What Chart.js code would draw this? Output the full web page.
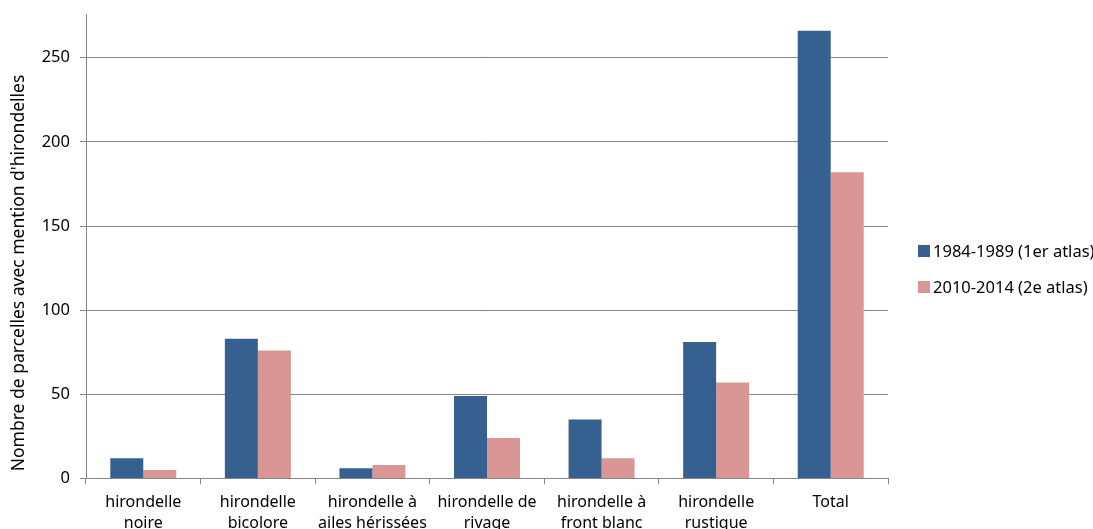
<!DOCTYPE html>
<html>
<head>
<meta charset="utf-8">
<script src="https://cdn.jsdelivr.net/npm/chart.js@4.4.1/dist/chart.umd.min.js"></script>
<style>
  html, body { margin: 0; padding: 0; background: #fff; overflow: hidden; }
  #wrap { position: relative; width: 1093px; height: 542px; }
</style>
</head>
<body>
<div id="wrap"><canvas id="chart"></canvas></div>
<script>
const categories = [
  ["hirondelle", "noire"],
  ["hirondelle", "bicolore"],
  ["hirondelle à", "ailes hérissées"],
  ["hirondelle de", "rivage"],
  ["hirondelle à", "front blanc"],
  ["hirondelle", "rustique"],
  "Total",
];
const seriesNames = ["1984-1989 (1er atlas)", "2010-2014 (2e atlas)"];
const seriesColors = ["#36608f", "#d99694"];
const firstAtlas = [12, 83, 6, 49, 35, 81, 266];
const secondAtlas = [5, 76, 8, 24, 12, 57, 182];
const yTicks = [0, 50, 100, 150, 200, 250];
const yTitle = "Nombre de parcelles avec mention d'hirondelles";

const gridColor = "#868686";
const fontFamily = "'Noto Sans', sans-serif";

Chart.defaults.font.family = fontFamily;
Chart.defaults.color = "#000";

// legend and axis title drawn by hand so they sit where the original has them
const sideTexts = {
  id: "sideTexts",
  afterDraw(chart) {
    const { ctx, chartArea } = chart;
    ctx.save();
    ctx.textBaseline = "middle";

    // y axis title
    ctx.save();
    ctx.translate(19, 273);
    ctx.rotate(-Math.PI / 2);
    ctx.textAlign = "center";
    ctx.font = "17.5px " + fontFamily;
    ctx.fillStyle = "#000";
    ctx.fillText(yTitle, 0, 0);
    ctx.restore();

    // legend
    const x = chartArea.right + 30;
    const midY = 269;
    ctx.font = "16.5px " + fontFamily;
    chart.data.datasets.forEach((ds, i) => {
      const y = midY + (i - 0.5) * 36;
      ctx.fillStyle = ds.backgroundColor;
      ctx.fillRect(x, y - 6, 12, 12);
      ctx.fillStyle = "#000";
      ctx.fillText(ds.label, x + 15, y + 1);
    });
    ctx.restore();
  },
};

new Chart(document.getElementById("chart"), {
  type: "bar",
  plugins: [sideTexts],
  data: {
    labels: categories,
    datasets: [
      {
        label: seriesNames[0],
        data: firstAtlas,
        backgroundColor: seriesColors[0],
        borderWidth: 0,
      },
      {
        label: seriesNames[1],
        data: secondAtlas,
        backgroundColor: seriesColors[1],
        borderWidth: 0,
      },
    ],
  },
  options: {
    responsive: true,
    maintainAspectRatio: false,
    animation: false,
    layout: { padding: { top: 14, right: 205, bottom: 0, left: 0 } },
    datasets: {
      bar: { categoryPercentage: 0.576, barPercentage: 1 },
    },
    plugins: {
      tooltip: { enabled: false },
      legend: { display: false },
    },
    scales: {
      x: {
        grid: {
          offset: true,
          drawOnChartArea: false,
          color: gridColor,
          tickLength: 6,
        },
        border: { color: gridColor, width: 1 },
        ticks: {
          font: { size: 16, lineHeight: 1.3 },
          color: "#000",
          padding: 8,
          maxRotation: 0,
          autoSkip: false,
        },
      },
      y: {
        min: 0,
        max: 276,
        afterBuildTicks: (scale) => {
          scale.ticks = yTicks.map((v) => ({ value: v }));
        },
        afterFit: (scale) => {
          scale.width = 86;
          scale.paddingTop = 0;
        },
        grid: {
          color: gridColor,
          tickLength: 6,
        },
        border: { color: gridColor, width: 1 },
        ticks: {
          font: { size: 16.5 },
          color: "#000",
          padding: 10,
        },
      },
    },
  },
});
</script>
</body>
</html>
